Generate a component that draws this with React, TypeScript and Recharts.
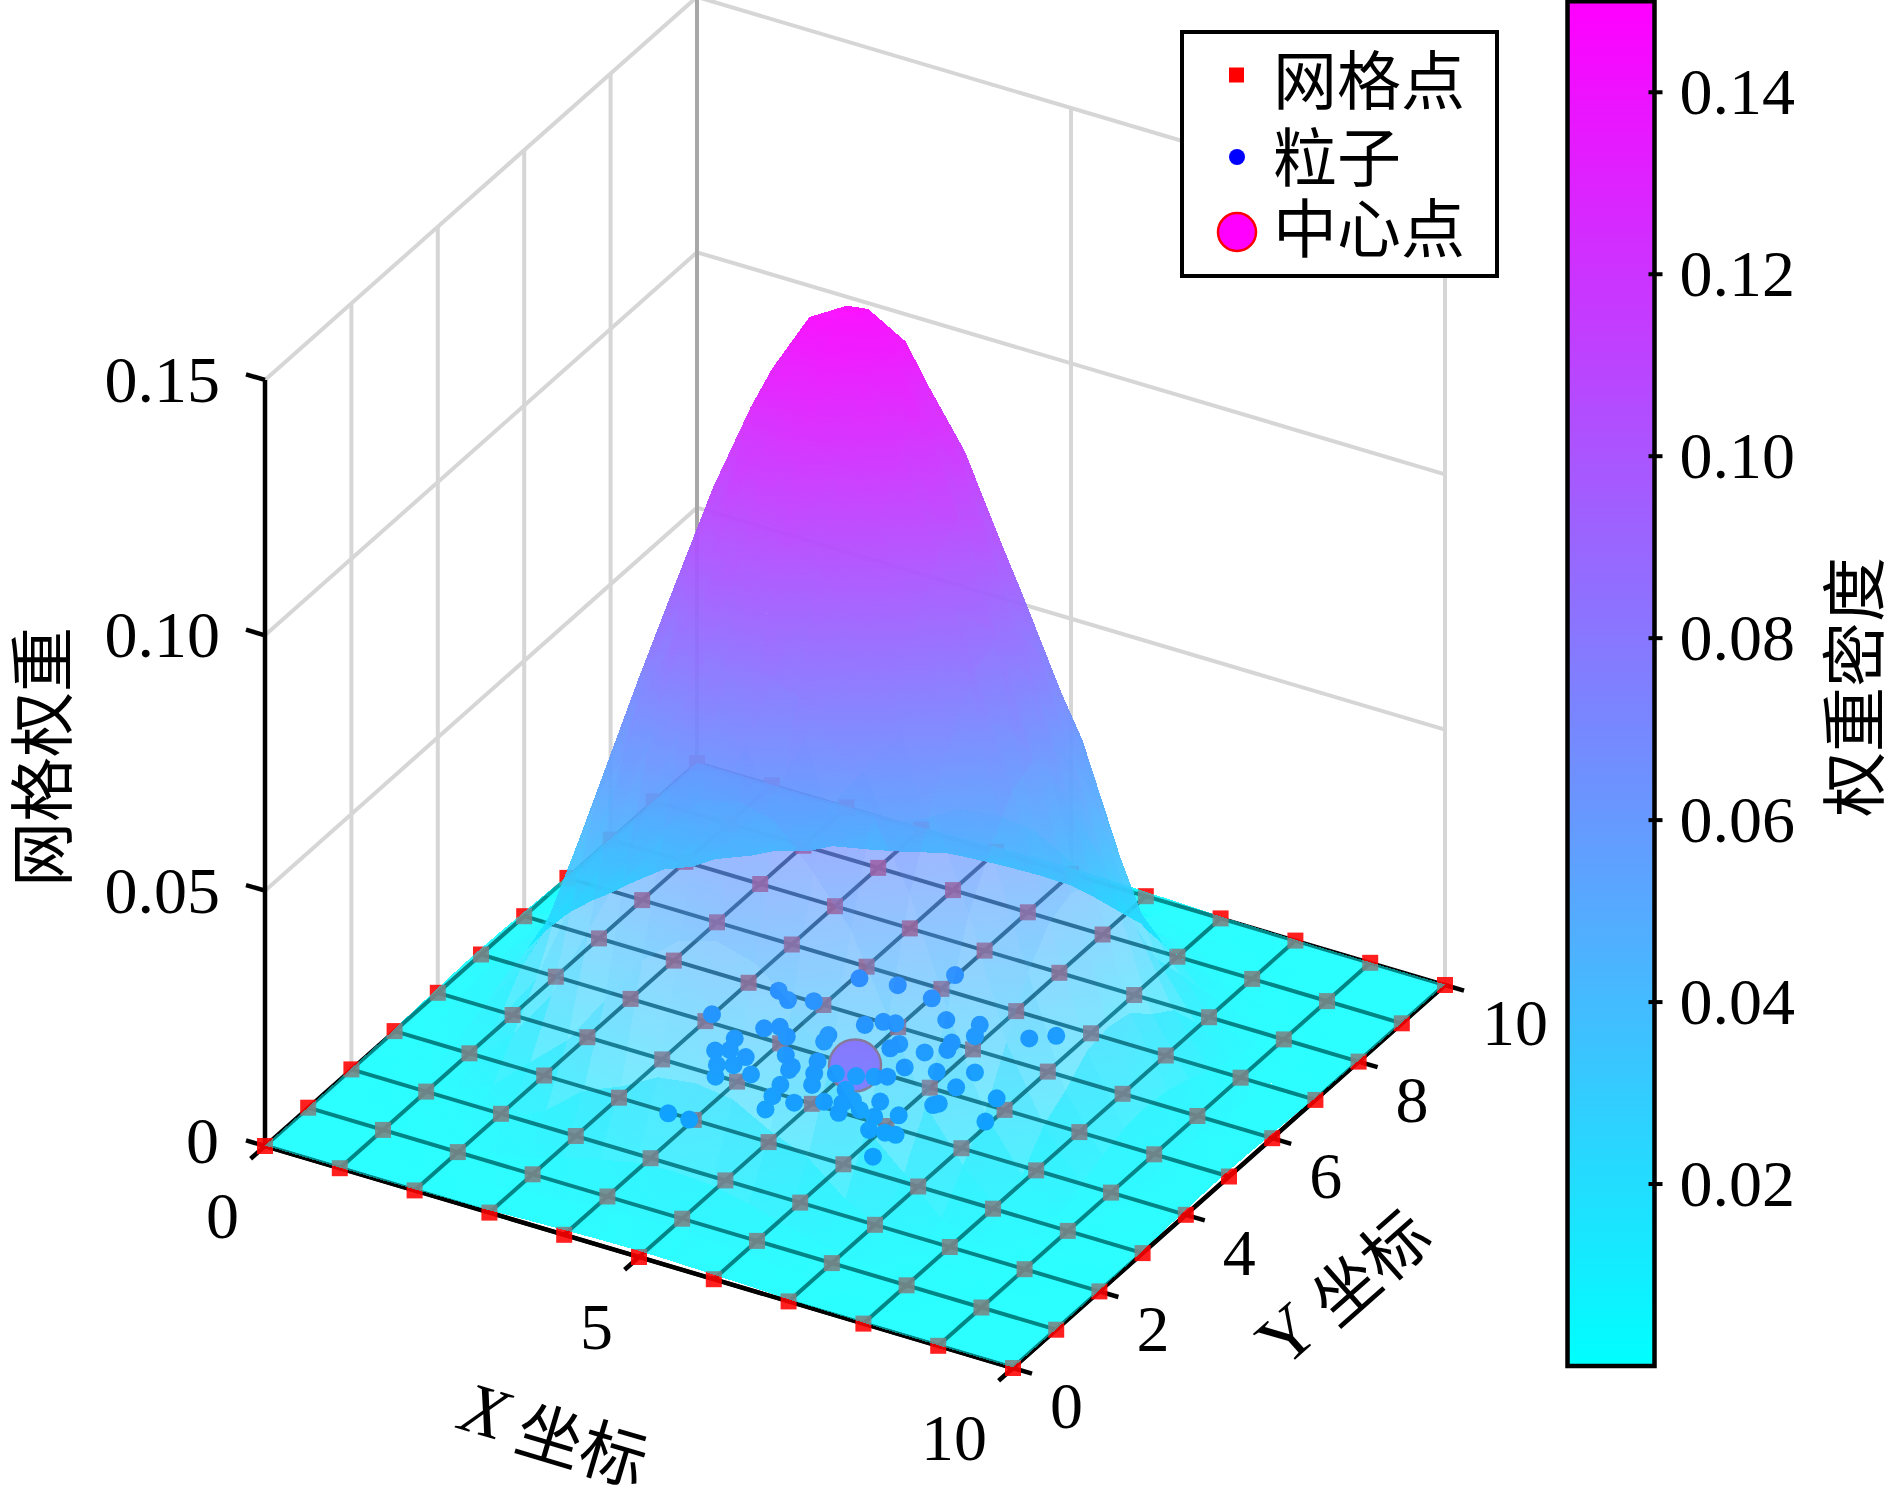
import React from 'react'
import { Bar, BarChart, Scatter, ScatterChart, XAxis, YAxis } from 'recharts'

const serif = '"Liberation Serif", serif'
const cjk = '"Noto Sans CJK SC", sans-serif'

// surface samples, rows run along y, columns along x
const gridX = [0, 0.43, 0.93, 1.43, 1.93, 2.43, 2.93, 3.43, 3.93, 4.43, 4.93, 5.43, 5.93, 6.43, 6.93, 7.43, 7.93, 8.43, 8.93, 9.43, 10]
const gridY = gridX
const weightRows = [
  [.0001,.0001,.0001,.0001,.0002,.0003,.0004,.0007,.0009,.0011,.0012,.0011,.0009,.0007,.0004,.0003,.0002,.0001,.0001,.0001,.0001],
  [.0001,.0001,.0001,.0002,.0004,.0008,.0014,.0022,.0029,.0034,.0036,.0034,.0029,.0022,.0014,.0008,.0004,.0002,.0001,.0001,.0001],
  [.0001,.0001,.0002,.0005,.0012,.0023,.0038,.0055,.0075,.0090,.0095,.0090,.0075,.0055,.0038,.0023,.0012,.0005,.0002,.0001,.0001],
  [.0001,.0002,.0005,.0013,.0029,.0052,.0090,.0150,.0180,.0220,.0230,.0220,.0180,.0150,.0090,.0052,.0029,.0013,.0005,.0002,.0001],
  [.0002,.0004,.0012,.0029,.0058,.0125,.0190,.0290,.0390,.0450,.0470,.0450,.0390,.0290,.0190,.0125,.0058,.0029,.0012,.0004,.0002],
  [.0003,.0008,.0023,.0052,.0125,.0220,.0370,.0520,.0610,.0687,.0708,.0687,.0610,.0520,.0370,.0220,.0125,.0052,.0023,.0008,.0003],
  [.0004,.0014,.0038,.0090,.0190,.0370,.0575,.0708,.0821,.0898,.0925,.0898,.0821,.0708,.0575,.0370,.0190,.0090,.0038,.0014,.0004],
  [.0007,.0022,.0055,.0150,.0290,.0520,.0708,.0872,.1012,.1106,.1140,.1106,.1012,.0872,.0708,.0520,.0290,.0150,.0055,.0022,.0007],
  [.0009,.0029,.0075,.0180,.0390,.0610,.0821,.1012,.1174,.1284,.1323,.1284,.1174,.1012,.0821,.0610,.0390,.0180,.0075,.0029,.0009],
  [.0011,.0034,.0090,.0220,.0450,.0687,.0898,.1106,.1284,.1404,.1446,.1404,.1284,.1106,.0898,.0687,.0450,.0220,.0090,.0034,.0011],
  [.0012,.0036,.0095,.0230,.0470,.0708,.0925,.1140,.1323,.1446,.1490,.1446,.1323,.1140,.0925,.0708,.0470,.0230,.0095,.0036,.0012],
  [.0011,.0034,.0090,.0220,.0450,.0687,.0898,.1106,.1284,.1404,.1446,.1404,.1284,.1106,.0898,.0687,.0450,.0220,.0090,.0034,.0011],
  [.0009,.0029,.0075,.0180,.0390,.0610,.0821,.1012,.1174,.1284,.1323,.1284,.1174,.1012,.0821,.0610,.0390,.0180,.0075,.0029,.0009],
  [.0007,.0022,.0055,.0150,.0290,.0520,.0708,.0872,.1012,.1106,.1140,.1106,.1012,.0872,.0708,.0520,.0290,.0150,.0055,.0022,.0007],
  [.0004,.0014,.0038,.0090,.0190,.0370,.0575,.0708,.0821,.0898,.0925,.0898,.0821,.0708,.0575,.0370,.0190,.0090,.0038,.0014,.0004],
  [.0003,.0008,.0023,.0052,.0125,.0220,.0370,.0520,.0610,.0687,.0708,.0687,.0610,.0520,.0370,.0220,.0125,.0052,.0023,.0008,.0003],
  [.0002,.0004,.0012,.0029,.0058,.0125,.0190,.0290,.0390,.0450,.0470,.0450,.0390,.0290,.0190,.0125,.0058,.0029,.0012,.0004,.0002],
  [.0001,.0002,.0005,.0013,.0029,.0052,.0090,.0150,.0180,.0220,.0230,.0220,.0180,.0150,.0090,.0052,.0029,.0013,.0005,.0002,.0001],
  [.0001,.0001,.0002,.0005,.0012,.0023,.0038,.0055,.0075,.0090,.0095,.0090,.0075,.0055,.0038,.0023,.0012,.0005,.0002,.0001,.0001],
  [.0001,.0001,.0001,.0002,.0004,.0008,.0014,.0022,.0029,.0034,.0036,.0034,.0029,.0022,.0014,.0008,.0004,.0002,.0001,.0001,.0001],
  [.0001,.0001,.0001,.0001,.0002,.0003,.0004,.0007,.0009,.0011,.0012,.0011,.0009,.0007,.0004,.0003,.0002,.0001,.0001,.0001,.0001],
]
const peakAt = { x: 4.93, y: 4.93 }

const nodeCoords = [0, 1, 2, 3, 4, 5, 6, 7, 8, 9, 10]
const particleX = [4.06,4.52,4.98,3.39,3.59,3.86,5.01,2.99,4.64,4.79,4.93,5.40,5.79,3.67,3.81,3.99,5.87,6.44,6.68,4.39,4.42,3.49,3.43,3.57,3.81,5.20,5.16,5.55,5.71,5.75,4.19,4.38,3.61,3.78,4.06,3.73,4.58,4.68,5.52,4.90,5.13,5.32,5.45,5.89,6.28,4.47,4.79,5.18,6.26,4.52,4.81,4.60,5.10,5.66,6.23,6.79,5.37,5.55,6.00,6.94,3.67,3.95,5.87,6.06,6.19,6.21,5.77,5.37,5.30,4.39,6.27]
const particleY = [6.73,6.82,7.35,6.02,5.89,6.02,6.76,5.17,5.85,6.02,6.06,6.42,6.52,5.20,5.32,5.17,6.27,6.54,6.75,5.44,5.29,4.83,4.48,4.58,4.53,5.68,5.54,5.66,6.01,5.84,4.80,4.61,4.21,4.30,4.22,3.97,4.86,4.61,5.25,4.73,4.80,4.89,4.97,5.35,5.56,4.19,4.37,4.47,5.16,3.92,3.92,3.62,4.11,4.44,4.68,5.18,3.98,4.16,4.28,4.66,2.98,2.98,3.82,3.86,3.88,3.32,4.11,4.31,4.19,4.53,4.74]
const centerPoint = [{ x: 5, y: 5 }]

const xTicks = [0, 5, 10]
const yTicks = [0, 2, 4, 6, 8, 10]
const zTicks = [0, 0.05, 0.1, 0.15]
const wallYLines = [2, 4, 6, 8]
const wallXLines = [5, 10]
const colorTicks = [0.02, 0.04, 0.06, 0.08, 0.1, 0.12, 0.14]
const colorTop = 0.15
const legendNames = ['网格点', '粒子', '中心点']

// isometric view of the box
const project = (x: number, y: number, z = 0) => ({
  sx: 265 + x * 74.8 + y * 43.2,
  sy: 1146 + x * 22.2 - y * 38.3 - z * 5107,
})

const cool = (z: number) => {
  const t = Math.min(1, Math.max(0, z / colorTop))
  return `rgb(${Math.round(255 * t)},${Math.round(255 * (1 - t))},255)`
}
const clamp01 = (v: number) => Math.max(0, Math.min(1, v))

const seg = (a: number[], b: number[]) => {
  const p = project(a[0], a[1], a[2])
  const q = project(b[0], b[1], b[2])
  return { ...p, dx: q.sx - p.sx, dy: q.sy - p.sy }
}

const lightWalls = [
  ...wallYLines.map((y) => seg([0, y, 0], [0, y, 0.15])),
  ...wallXLines.map((x) => seg([x, 10, 0], [x, 10, 0.15])),
  ...zTicks.slice(1).flatMap((z) => [seg([0, 0, z], [0, 10, z]), seg([0, 10, z], [10, 10, z])]),
]
const cornerLine = [seg([0, 10, 0], [0, 10, 0.15])]
const floorGrid = nodeCoords.flatMap((c) => [seg([c, 0, 0], [c, 10, 0]), seg([0, c, 0], [10, c, 0])])
const axisLines = [seg([0, 0, 0], [0, 0, 0.15]), seg([0, 0, 0], [10, 0, 0]), seg([10, 0, 0], [10, 10, 0])]

const tick = (p: { sx: number; sy: number }, dx: number, dy: number) => ({ ...p, dx, dy })
const axisTickMarks = [
  ...zTicks.map((z) => tick(project(0, 0, z), -19, -5.6)),
  ...xTicks.map((x) => tick(project(x, 0), -14.4, 12.8)),
  ...yTicks.map((y) => tick(project(10, y), 19, 5.6)),
]

const gridNodes = nodeCoords.flatMap((y) => nodeCoords.map((x) => project(x, y)))
const particles = particleX.map((x, i) => project(x, particleY[i]))
const centerNode = centerPoint.map((c) => project(c.x, c.y))

// far cells first so the nearer slope paints over the rear one
const cells: any[] = []
for (let j = gridY.length - 2; j >= 0; j--) {
  for (let i = 0; i < gridX.length - 1; i++) {
    const corners = [
      [gridX[i], gridY[j], weightRows[j][i]],
      [gridX[i + 1], gridY[j], weightRows[j][i + 1]],
      [gridX[i + 1], gridY[j + 1], weightRows[j + 1][i + 1]],
      [gridX[i], gridY[j + 1], weightRows[j + 1][i]],
    ]
    const pts = corners.map((c) => project(c[0], c[1], c[2]))
    const low = corners.reduce((m, c, k) => (c[2] < corners[m][2] ? k : m), 0)
    const high = corners.reduce((m, c, k) => (c[2] > corners[m][2] ? k : m), 0)
    const ox = (gridX[i] + gridX[i + 1]) / 2 - peakAt.x
    const oy = (gridY[j] + gridY[j + 1]) / 2 - peakAt.y
    cells.push({
      ...pts[0],
      id: `cell-${j}-${i}`,
      rel: pts.map((p) => [p.sx - pts[0].sx, p.sy - pts[0].sy]),
      lowAt: [pts[low].sx - pts[0].sx, pts[low].sy - pts[0].sy],
      highAt: [pts[high].sx - pts[0].sx, pts[high].sy - pts[0].sy],
      lowZ: corners[low][2],
      highZ: corners[high][2],
      meanZ: corners.reduce((s, c) => s + c[2], 0) / 4,
      rear: -0.5 * ox + 0.866 * oy,
      side: Math.abs(0.866 * ox + 0.5 * oy),
    })
  }
}

const SurfaceCell = ({ cx, cy, payload }: any) => {
  const pts = payload.rel.map((r: number[]) => `${cx + r[0]},${cy + r[1]}`).join(' ')
  const base = 0.52 + 0.18 * Math.min(1, payload.meanZ / 0.07)
  // the sheet behind the peak hides the floor grid
  const behind = clamp01(payload.rear / 0.5) * clamp01((3.6 - payload.side) / 0.8)
  const opacity = base + (0.82 - base) * behind
  return (
    <g>
      <linearGradient
        id={payload.id}
        gradientUnits="userSpaceOnUse"
        x1={cx + payload.lowAt[0]}
        y1={cy + payload.lowAt[1]}
        x2={cx + payload.highAt[0]}
        y2={cy + payload.highAt[1]}
      >
        <stop offset="0" stopColor={cool(payload.lowZ)} />
        <stop offset="1" stopColor={cool(payload.highZ)} />
      </linearGradient>
      <polygon points={pts} fill={`url(#${payload.id})`} fillOpacity={opacity} shapeRendering="crispEdges" />
    </g>
  )
}

// paler sheet under the grid, only near the floor
const BaseCell = ({ cx, cy, payload }: any) => {
  const o = 0.65 * clamp01((0.03 - payload.meanZ) / 0.02)
  if (o <= 0) return <g />
  const pts = payload.rel.map((r: number[]) => `${cx + r[0]},${cy + r[1]}`).join(' ')
  return <polygon points={pts} fill={cool(payload.meanZ)} fillOpacity={o} shapeRendering="crispEdges" />
}

const segShape = (stroke: string, width: number) => ({ cx, cy, payload }: any) => (
  <line x1={cx} y1={cy} x2={cx + payload.dx} y2={cy + payload.dy} stroke={stroke} strokeWidth={width} />
)

const labelShape = (anchor: string, size = 66) => ({ cx, cy, payload }: any) => (
  <text x={cx} y={cy} textAnchor={anchor} fontFamily={serif} fontSize={size} fill="#000">
    {payload.label}
  </text>
)

const offsetLabel = (p: { sx: number; sy: number }, dx: number, dy: number, label: string) => ({
  sx: p.sx + dx,
  sy: p.sy + dy,
  label,
})
const zLabels = zTicks.map((z) => offsetLabel(project(0, 0, z), z === 0 ? -46 : -45, z === 0 ? 17 : 22, z === 0 ? '0' : z.toFixed(2)))
const xLabels = xTicks.map((x) => offsetLabel(project(x, 0), -26, 92, String(x)))
const yLabels = yTicks.map((y) => offsetLabel(project(10, y), 37, 60, String(y)))

const ColorTick = ({ x, y, payload }: any) => (
  <g>
    <line x1={x - 14} y1={y} x2={x} y2={y} stroke="#000" strokeWidth={4} />
    <text x={x + 17} y={y + 22} fontFamily={serif} fontSize={66} fill="#000">
      {payload.value.toFixed(2)}
    </text>
  </g>
)

const colorBarData = [{ name: 'weight', top: colorTop }]

const AxisTitles = () => (
  <g fill="#000">
    <text x={555} y={1432} transform="rotate(16.5 555 1432)" textAnchor="middle" dominantBaseline="central" fontSize={66} fontFamily={cjk}>
      <tspan fontFamily={serif} fontStyle="italic" fontSize={72}>X</tspan> 坐标
    </text>
    <text x={1342} y={1286} transform="rotate(-41.5 1342 1286)" textAnchor="middle" dominantBaseline="central" fontSize={66} fontFamily={cjk}>
      <tspan fontFamily={serif} fontSize={72}>Y</tspan> 坐标
    </text>
    <text x={38} y={757} transform="rotate(-90 38 757)" textAnchor="middle" dominantBaseline="central" fontSize={65} fontFamily={cjk}>
      网格权重
    </text>
    <text x={1850} y={687} transform="rotate(-90 1850 687)" textAnchor="middle" dominantBaseline="central" fontSize={65} fontFamily={cjk}>
      权重密度
    </text>
  </g>
)

const LegendBox = () => (
  <svg width={319} height={248} style={{ position: 'absolute', left: 1180, top: 30 }}>
    <rect x={2} y={2} width={315} height={244} fill="#fff" stroke="#000" strokeWidth={4} />
    <rect x={49} y={37.5} width={15} height={15} fill="#f00" />
    <circle cx={57} cy={127} r={8} fill="#00f" />
    <circle cx={57} cy={202} r={19} fill="#f0f" stroke="#f00" strokeWidth={2.5} />
    {legendNames.map((name, i) => (
      <text key={name} x={93} y={[46, 123, 194][i]} dominantBaseline="central" fontSize={64} fontFamily={cjk} fill="#000">
        {name}
      </text>
    ))}
  </svg>
)

const flat = { isAnimationActive: false, legendType: 'none' as const }

export default function App() {
  return (
    <div style={{ position: 'absolute', left: 0, top: 0, width: 1890, height: 1507, background: '#fff', overflow: 'hidden' }}>
      <ScatterChart width={1890} height={1507} margin={{ top: 0, right: 0, bottom: 0, left: 0 }} style={{ position: 'absolute', left: 0, top: 0 }}>
        <XAxis type="number" dataKey="sx" domain={[0, 1890]} hide allowDataOverflow />
        <YAxis type="number" dataKey="sy" domain={[0, 1507]} reversed hide allowDataOverflow />
        <Scatter {...flat} data={lightWalls} shape={segShape('#d6d6d6', 4)} />
        <Scatter {...flat} data={cornerLine} shape={segShape('#a8a8a8', 4)} />
        <Scatter {...flat} data={cells} shape={BaseCell} />
        <Scatter {...flat} data={axisLines} shape={segShape('#000', 4.5)} />
        <Scatter {...flat} data={axisTickMarks} shape={segShape('#000', 4.5)} />
        <Scatter {...flat} data={floorGrid} shape={segShape('#000', 4)} />
        <Scatter
          {...flat}
          data={gridNodes}
          shape={({ cx, cy }: any) => <rect x={cx - 8} y={cy - 8} width={16} height={16} fill="#f00" fillOpacity={0.88} />}
        />
        <Scatter
          {...flat}
          data={centerNode}
          shape={({ cx, cy }: any) => <circle cx={cx} cy={cy} r={26} fill="#f0f" stroke="#f00" strokeWidth={2.5} />}
        />
        <Scatter {...flat} data={particles} shape={({ cx, cy }: any) => <circle cx={cx} cy={cy} r={9} fill="#0050ff" />} />
        <Scatter {...flat} data={cells} shape={SurfaceCell} />
        <Scatter {...flat} data={zLabels} shape={labelShape('end')} />
        <Scatter {...flat} data={xLabels} shape={labelShape('end')} />
        <Scatter {...flat} data={yLabels} shape={labelShape('start')} />
        <AxisTitles />
      </ScatterChart>

      <BarChart
        width={330}
        height={1507}
        data={colorBarData}
        barCategoryGap={0}
        margin={{ top: 1.3, right: 0, bottom: 141, left: 7.5 }}
        style={{ position: 'absolute', left: 1560, top: 0 }}
      >
        <defs>
          <linearGradient id="coolBar" x1="0" y1="0" x2="0" y2="1">
            <stop offset="0" stopColor="#f0f" />
            <stop offset="1" stopColor="#0ff" />
          </linearGradient>
        </defs>
        <XAxis dataKey="name" hide />
        <YAxis
          orientation="right"
          width={235.5}
          domain={[0, colorTop]}
          ticks={colorTicks}
          axisLine={false}
          tickLine={false}
          tick={ColorTick}
          interval={0}
        />
        <Bar dataKey="top" fill="url(#coolBar)" stroke="#000" strokeWidth={4.5} isAnimationActive={false} />
      </BarChart>

      <LegendBox />
    </div>
  )
}
